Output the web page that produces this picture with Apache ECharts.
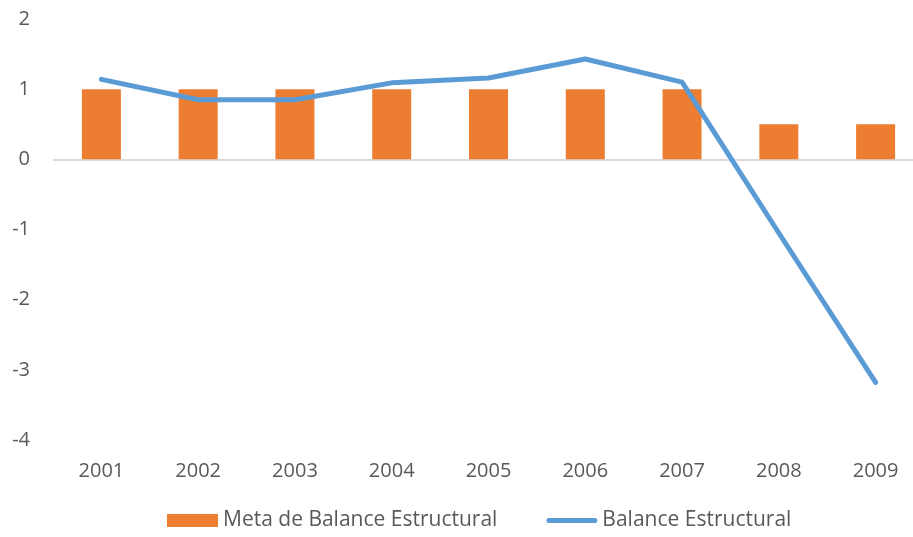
<!DOCTYPE html>
<html>
<head>
<meta charset="utf-8">
<script src="https://cdn.jsdelivr.net/npm/echarts@6/dist/echarts.min.js"></script>
<style>
  html, body { margin: 0; padding: 0; background: #fff; }
  #chart { width: 913px; height: 537px; }
</style>
</head>
<body>
<div id="chart"></div>
<script>
const years = ['2001', '2002', '2003', '2004', '2005', '2006', '2007', '2008', '2009']
const metaBalance = [1, 1, 1, 1, 1, 1, 1, 0.5, 0.5]
const balanceEstructural = [1.14, 0.85, 0.85, 1.09, 1.16, 1.43, 1.10, -1.05, -3.18]

const textColor = '#595959'
const fontFamily = '"Open Sans", Lato, sans-serif'

const chart = echarts.init(document.getElementById('chart'))

// only the zero line is drawn, like the Excel original
const splitColors = ['transparent', 'transparent', 'transparent', 'transparent', '#d9d9d9', 'transparent', 'transparent']

const option = {
  animation: false,
  textStyle: { fontFamily: fontFamily },
  grid: {
    left: 53,
    width: 871,
    top: 19,
    bottom: 97,
    outerBoundsMode: 'none'
  },
  legend: {
    bottom: 1,
    left: 162,
    itemGap: 49,
    itemWidth: 51,
    itemHeight: 13,
    textStyle: {
      fontSize: 21,
      color: textColor,
      fontFamily: fontFamily
    },
    data: [
      { name: 'Meta de Balance Estructural', icon: 'rect' },
      {
        name: 'Balance Estructural',
        icon: 'path://M2.5,0 H48.5 A2.5,2.5 0 0 1 48.5,5 H2.5 A2.5,2.5 0 0 1 2.5,0 Z'
      }
    ]
  },
  xAxis: {
    type: 'category',
    data: years,
    axisLine: { show: false, onZero: false },
    axisTick: { show: false },
    axisLabel: {
      fontSize: 20,
      color: textColor,
      margin: 21
    }
  },
  yAxis: {
    type: 'value',
    min: -4,
    max: 2,
    interval: 1,
    axisLine: { show: false },
    axisTick: { show: false },
    axisLabel: {
      fontSize: 20,
      color: textColor,
      margin: 23
    },
    splitLine: {
      show: true,
      lineStyle: { color: splitColors, width: 2 }
    }
  },
  series: [
    {
      name: 'Meta de Balance Estructural',
      type: 'bar',
      data: metaBalance,
      barWidth: 39,
      itemStyle: { color: '#ED7D31' }
    },
    {
      name: 'Balance Estructural',
      type: 'line',
      data: balanceEstructural,
      symbol: 'none',
      lineStyle: { color: '#5B9BD5', width: 5, cap: 'round', join: 'round' },
      itemStyle: { color: '#5B9BD5' }
    }
  ]
}

chart.setOption(option)
</script>
</body>
</html>
